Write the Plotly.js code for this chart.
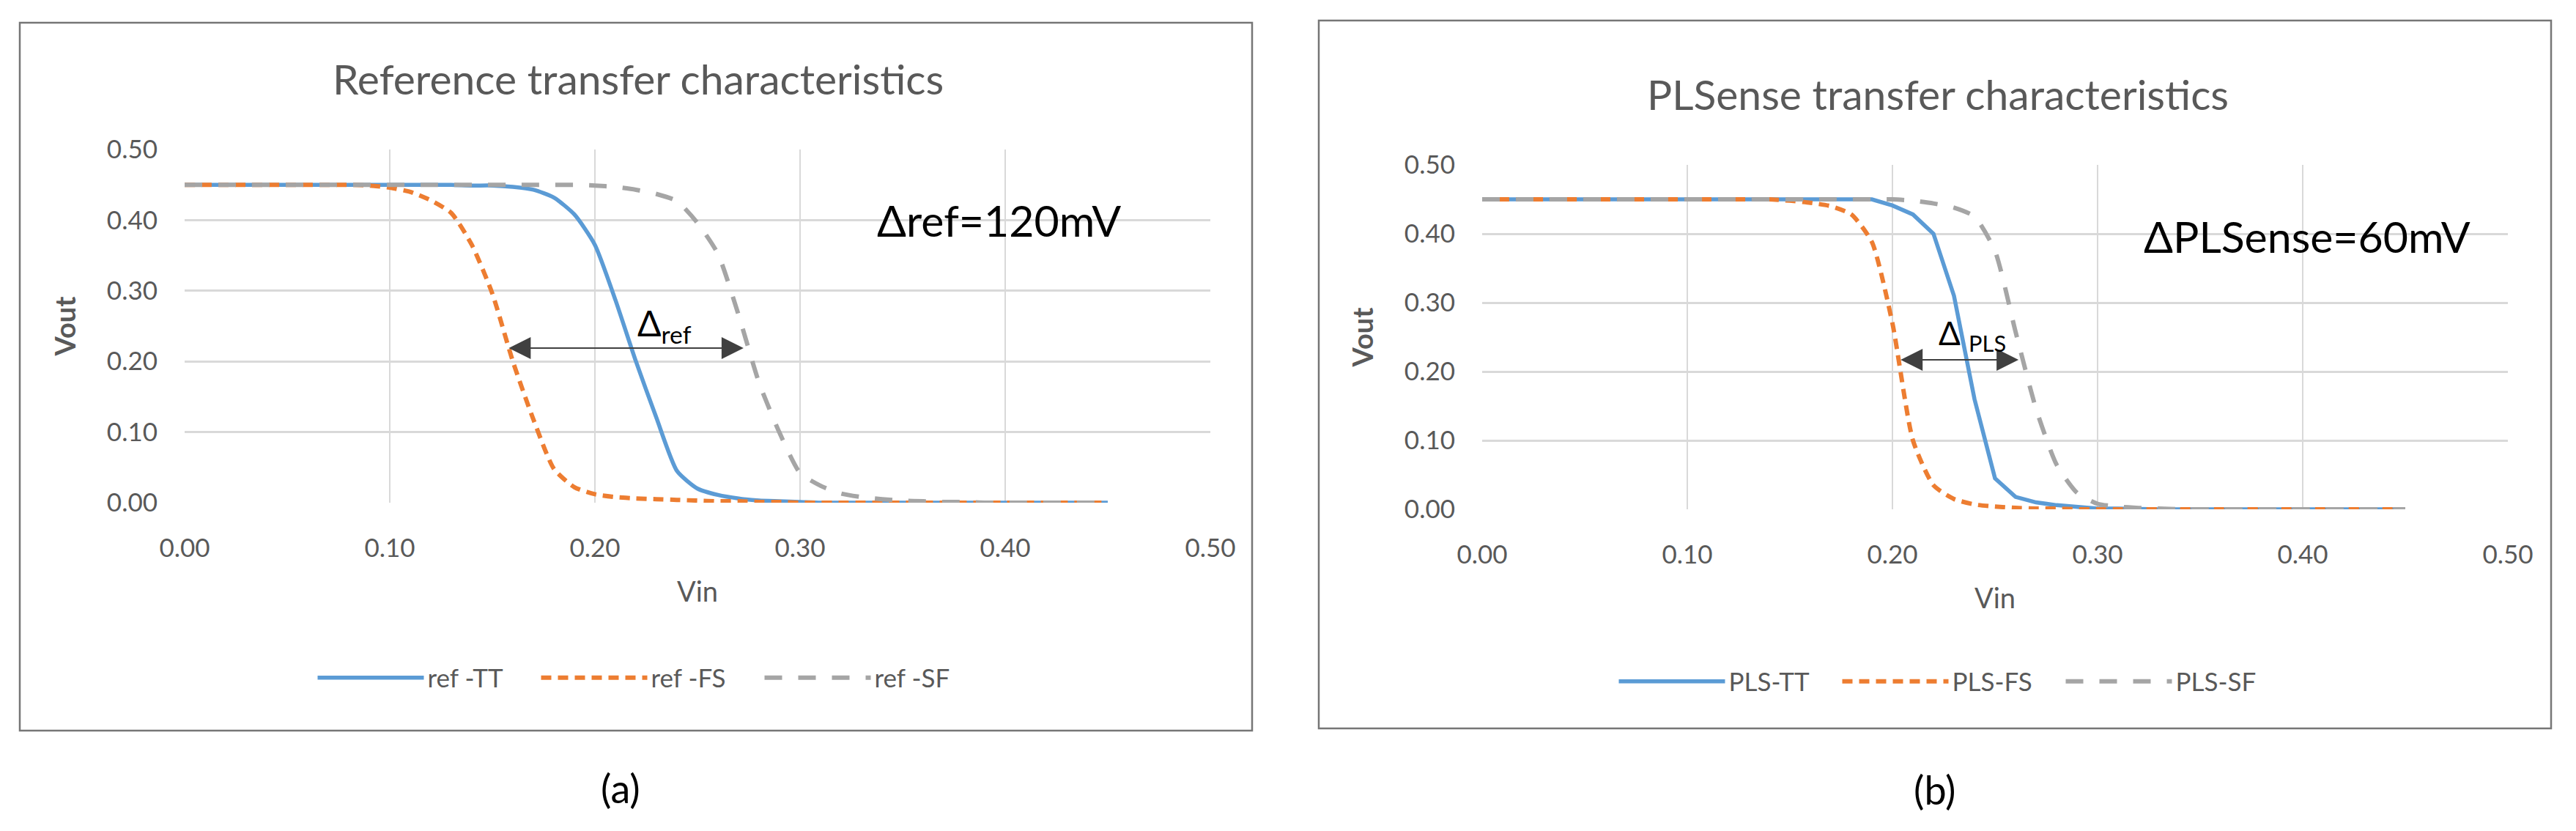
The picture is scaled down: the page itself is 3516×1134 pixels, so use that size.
<!DOCTYPE html>
<html>
<head>
<meta charset="utf-8">
<script src="https://cdn.plot.ly/plotly-3.0.1.min.js"></script>
<style>
  html, body { margin: 0; padding: 0; background: #ffffff; }
  #plotArea { width: 3516px; height: 1134px; }
</style>
</head>
<body>
<div id="plotArea"></div>
<script>
// Vin sweep (V), shared by all six curves
var vin = [0.00, 0.01, 0.02, 0.03, 0.04, 0.05, 0.06, 0.07, 0.08, 0.09,
           0.10, 0.11, 0.12, 0.13, 0.14, 0.15, 0.16, 0.17, 0.18, 0.19,
           0.20, 0.21, 0.22, 0.23, 0.24, 0.25, 0.26, 0.27, 0.28, 0.29,
           0.30, 0.31, 0.32, 0.33, 0.34, 0.35, 0.36, 0.37, 0.38, 0.39,
           0.40, 0.41, 0.42, 0.43, 0.44, 0.45];

// (a) reference sense amp, Vout (V)
var refTT = [0.45, 0.45, 0.45, 0.45, 0.45, 0.45, 0.45, 0.45, 0.45, 0.45,
             0.45, 0.45, 0.45, 0.45, 0.449, 0.449, 0.447, 0.443, 0.432, 0.408,
             0.365, 0.287, 0.200, 0.120, 0.045, 0.020, 0.011, 0.006, 0.003, 0.002,
             0.001, 0, 0, 0, 0, 0, 0, 0, 0, 0,
             0, 0, 0, 0, 0, 0];
var refFS = [0.45, 0.45, 0.45, 0.45, 0.45, 0.45, 0.45, 0.45, 0.45, 0.449,
             0.446, 0.440, 0.428, 0.410, 0.365, 0.296, 0.200, 0.118, 0.048, 0.022,
             0.012, 0.008, 0.006, 0.005, 0.004, 0.003, 0.002, 0.002, 0.001, 0.001,
             0, 0, 0, 0, 0, 0, 0, 0, 0, 0,
             0, 0, 0, 0, 0, 0];
var refSF = [0.45, 0.45, 0.45, 0.45, 0.45, 0.45, 0.45, 0.45, 0.45, 0.45,
             0.45, 0.45, 0.45, 0.45, 0.45, 0.45, 0.45, 0.45, 0.45, 0.45,
             0.449, 0.447, 0.443, 0.437, 0.427, 0.396, 0.352, 0.266, 0.170, 0.099,
             0.042, 0.024, 0.013, 0.008, 0.005, 0.003, 0.002, 0.001, 0.001, 0,
             0, 0, 0, 0, 0, 0];

// (b) PLSense, Vout (V)
var plsTT = [0.45, 0.45, 0.45, 0.45, 0.45, 0.45, 0.45, 0.45, 0.45, 0.45,
             0.45, 0.45, 0.45, 0.45, 0.45, 0.45, 0.45, 0.45, 0.45, 0.45,
             0.441, 0.428, 0.400, 0.310, 0.160, 0.045, 0.018, 0.010, 0.006, 0.003,
             0.001, 0.001, 0, 0, 0, 0, 0, 0, 0, 0,
             0, 0, 0, 0, 0, 0];
var plsFS = [0.45, 0.45, 0.45, 0.45, 0.45, 0.45, 0.45, 0.45, 0.45, 0.45,
             0.45, 0.45, 0.45, 0.45, 0.45, 0.448, 0.445, 0.440, 0.428, 0.388,
             0.270, 0.100, 0.035, 0.015, 0.007, 0.004, 0.002, 0.001, 0.001, 0,
             0, 0, 0, 0, 0, 0, 0, 0, 0, 0,
             0, 0, 0, 0, 0, 0];
var plsSF = [0.45, 0.45, 0.45, 0.45, 0.45, 0.45, 0.45, 0.45, 0.45, 0.45,
             0.45, 0.45, 0.45, 0.45, 0.45, 0.45, 0.45, 0.45, 0.45, 0.45,
             0.45, 0.448, 0.444, 0.438, 0.425, 0.375, 0.258, 0.146, 0.065, 0.024,
             0.008, 0.004, 0.002, 0.001, 0, 0, 0, 0, 0, 0,
             0, 0, 0, 0, 0, 0];

var refNames = ["ref -TT", "ref -FS", "ref -SF"];
var plsNames = ["PLS-TT", "PLS-FS", "PLS-SF"];

// delta markers: [left Vin, right Vin, Vout]
var refDelta = [0.158, 0.273, 0.219];
var plsDelta = [0.204, 0.262, 0.217];

var W = 3516, H = 1134;
function px(x) { return x / W; }
function py(y) { return 1 - y / H; }

var blue = "#5B9BD5", orange = "#ED7D31", grey = "#A5A5A5";
var textGrey = "#595959";
var font = "Lato, 'Open Sans', sans-serif";

function curve(y, name, xa, ya, lg, color, dash, width, shape) {
    return {
        x: vin, y: y, name: name, xaxis: xa, yaxis: ya, legend: lg,
        type: "scatter", mode: "lines",
        line: {color: color, dash: dash, width: width, shape: shape, smoothing: 0.6}
    };
}

var data = [
    curve(refTT, refNames[0], "x", "y", "legend", blue, "solid", 5.5, "spline"),
    curve(refFS, refNames[1], "x", "y", "legend", orange, "14px,9px", 6, "spline"),
    curve(refSF, refNames[2], "x", "y", "legend", grey, "24px,22px", 6, "spline"),
    curve(plsTT, plsNames[0], "x2", "y2", "legend2", blue, "solid", 5.5, "linear"),
    curve(plsFS, plsNames[1], "x2", "y2", "legend2", orange, "14px,9px", 6, "spline"),
    curve(plsSF, plsNames[2], "x2", "y2", "legend2", grey, "24px,22px", 6, "spline")
];

function xAxis(domain, anchor) {
    return {
        domain: domain, anchor: anchor, range: [0, 0.5], tick0: 0, dtick: 0.1,
        tickformat: ".2f", ticks: "", ticklabelstandoff: 38,
        tickfont: {family: font, size: 35, color: textGrey},
        showgrid: true, gridcolor: "#D9D9D9", gridwidth: 2,
        zeroline: false, showline: false, fixedrange: true,
        title: {text: "Vin", standoff: 28, font: {family: font, size: 38, color: textGrey}}
    };
}
function yAxis(domain, anchor) {
    return {
        domain: domain, anchor: anchor, range: [0, 0.5], tick0: 0, dtick: 0.1,
        tickformat: ".2f", ticks: "", ticklabelstandoff: 36,
        tickfont: {family: font, size: 35, color: textGrey},
        showgrid: true, gridcolor: "#D9D9D9", gridwidth: 3,
        zeroline: false, showline: false, fixedrange: true,
        title: {text: "<b>Vout</b>", standoff: 30, font: {family: font, size: 38, color: textGrey}}
    };
}

function legendAt(xc, yc) {
    return {
        orientation: "h", x: px(xc), xanchor: "center", y: py(yc), yanchor: "middle",
        itemwidth: 145, entrywidth: 145, bgcolor: "rgba(0,0,0,0)",
        font: {family: font, size: 35, color: textGrey}
    };
}

function deltaArrow(d, xr, yr) {
    return {
        xref: xr, yref: yr, axref: xr, ayref: yr,
        x: d[0], y: d[2], ax: d[1], ay: d[2], text: "",
        showarrow: true, arrowside: "end+start",
        arrowhead: 2, startarrowhead: 2, arrowsize: 3, startarrowsize: 3,
        arrowwidth: 2, arrowcolor: "#404040", standoff: 0, startstandoff: 0
    };
}

function label(xr, yr, x, y, text, size, color) {
    return {xref: xr, yref: yr, x: x, y: y, text: text, showarrow: false,
            xanchor: "center", yanchor: "middle",
            font: {family: font, size: size, color: color}};
}

var layout = {
    width: W, height: H,
    margin: {l: 0, r: 0, t: 0, b: 0},
    paper_bgcolor: "#ffffff", plot_bgcolor: "#ffffff",
    showlegend: true,
    xaxis: xAxis([px(252), px(1652)], "y"),
    yaxis: yAxis([py(686), py(204)], "x"),
    xaxis2: xAxis([px(2023), px(3423)], "y2"),
    yaxis2: yAxis([py(695), py(225)], "x2"),
    legend: legendAt(886, 925),
    legend2: legendAt(2662, 930),
    shapes: [
        {type: "rect", xref: "paper", yref: "paper", x0: px(27), x1: px(1709), y0: py(997), y1: py(31),
         line: {color: "#767676", width: 2.5}},
        {type: "rect", xref: "paper", yref: "paper", x0: px(1800), x1: px(3482), y0: py(994), y1: py(28),
         line: {color: "#767676", width: 2.5}}
    ],
    annotations: [
        label("paper", "paper", px(871), py(107), "Reference transfer characteristics", 57, textGrey),
        label("paper", "paper", px(2645), py(128), "PLSense transfer characteristics", 57, textGrey),
        label("x", "y", 0.397, 0.40, "\u0394ref=120mV", 59, "#000000"),
        label("x2", "y2", 0.402, 0.396, "\u0394PLSense=60mV", 59, "#000000"),
        deltaArrow(refDelta, "x", "y"),
        deltaArrow(plsDelta, "x2", "y2"),
        label("x", "y", 0.234, 0.251, "\u0394<sub>ref</sub>", 48, "#000000"),
        label("x2", "y2", 0.239, 0.253, "\u0394 <sub>PLS</sub>", 44, "#000000"),
        label("paper", "paper", px(847), py(1075), "(a)", 54, "#000000"),
        label("paper", "paper", px(2641), py(1077), "(b)", 54, "#000000")
    ]
};

Plotly.newPlot("plotArea", data, layout, {staticPlot: true});
</script>
</body>
</html>
